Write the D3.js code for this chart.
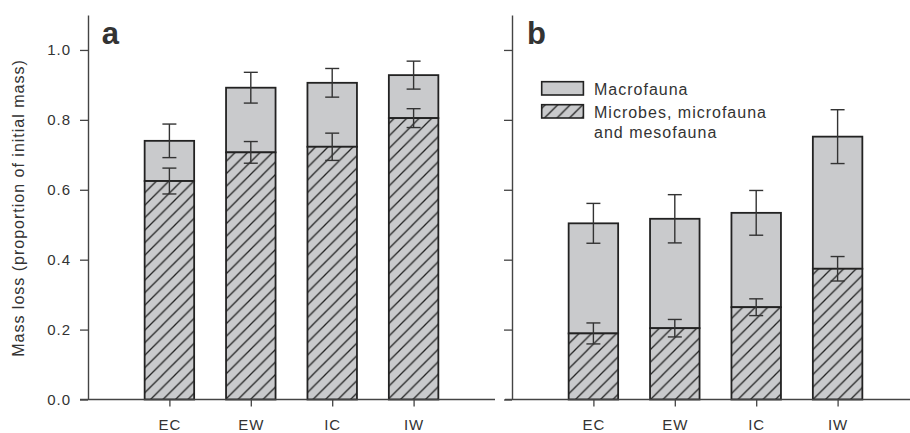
<!DOCTYPE html>
<html><head><meta charset="utf-8">
<script src="https://cdn.jsdelivr.net/npm/d3@7/dist/d3.min.js"></script>
<style>
html,body{margin:0;padding:0;background:#fff;}
svg text{font-family:"Liberation Sans",Arial,sans-serif;fill:#333;}
</style></head>
<body><svg id="chart" width="910" height="433"></svg>
<script>
const categories = ["EC","EW","IC","IW"];
// Panel a
const aTotal    = [0.740, 0.892, 0.906, 0.928];
const aTotalErr = [0.048, 0.044, 0.041, 0.040];
const aMicro    = [0.625, 0.707, 0.723, 0.805];
const aMicroErr = [0.037, 0.031, 0.039, 0.027];
// Panel b
const bTotal    = [0.504, 0.517, 0.534, 0.752];
const bTotalErr = [0.057, 0.069, 0.064, 0.077];
const bMicro    = [0.189, 0.204, 0.264, 0.374];
const bMicroErr = [0.030, 0.025, 0.024, 0.035];
const yTicks = [0.0, 0.2, 0.4, 0.6, 0.8, 1.0];
const legendLabels = ["Macrofauna", ["Microbes, microfauna", "and mesofauna"]];
const panelLabels = ["a", "b"];
const yTitle = "Mass loss (proportion of initial mass)";

const svg = d3.select("#chart");
const FILL = "#c9cacc", STROKE = "#222", AXIS = "#444";

const defs = svg.append("defs");
const pat = defs.append("pattern").attr("id","hatch").attr("patternUnits","userSpaceOnUse")
  .attr("width",12.5).attr("height",12.5);
pat.append("rect").attr("width",12.5).attr("height",12.5).attr("fill",FILL);
pat.append("path").attr("d","M-3.125,3.125 L3.125,-3.125 M0,12.5 L12.5,0 M9.375,15.625 L15.625,9.375")
  .attr("stroke","#222").attr("stroke-width",1.3);

const y = d3.scaleLinear().domain([0,1.1]).range([399.5,15]);

function panel(idx, axisX, total, totalErr, micro, microErr, showLabels, baseStart, baseEnd) {
  const x = d3.scaleLinear().domain([0,5]).range([axisX, axisX + 5*81.4]);
  const g = svg.append("g");
  const bw = 49.5;

  categories.forEach((c,i)=>{
    const cx = x(i+1);
    g.append("rect").attr("x",cx-bw/2).attr("y",y(total[i])).attr("width",bw)
      .attr("height",y(micro[i])-y(total[i])).attr("fill",FILL).attr("stroke",STROKE).attr("stroke-width",1.8);
    g.append("rect").attr("x",cx-bw/2).attr("y",y(micro[i])).attr("width",bw)
      .attr("height",y(0)-y(micro[i])).attr("fill","url(#hatch)").attr("stroke",STROKE).attr("stroke-width",1.8);
  });
  function err(vals, errs){
    vals.forEach((v,i)=>{
      const cx = x(i+1), hi=y(v+errs[i]), lo=y(v-errs[i]);
      const e = g.append("g").attr("stroke","#333").attr("stroke-width",1.4);
      e.append("line").attr("x1",cx).attr("x2",cx).attr("y1",hi).attr("y2",lo);
      e.append("line").attr("x1",cx-7).attr("x2",cx+7).attr("y1",hi).attr("y2",hi);
      e.append("line").attr("x1",cx-7).attr("x2",cx+7).attr("y1",lo).attr("y2",lo);
    });
  }
  err(total,totalErr);
  err(micro,microErr);

  const ya = g.append("g").attr("transform",`translate(${axisX},0)`)
    .call(d3.axisLeft(y).tickValues(yTicks).tickSize(8).tickSizeOuter(0).tickPadding(9)
      .tickFormat(showLabels ? d3.format(".1f") : ""));
  ya.select(".domain").attr("stroke",AXIS).attr("stroke-width",1.4);
  ya.selectAll(".tick line").attr("stroke",AXIS).attr("stroke-width",1.3);
  ya.selectAll("text").style("font-size","15px").style("letter-spacing","1px").attr("fill","#333");

  g.append("line").attr("x1",baseStart).attr("x2",baseEnd).attr("y1",y(0)).attr("y2",y(0))
    .attr("stroke",AXIS).attr("stroke-width",1.4);
  const xa = g.append("g").attr("transform",`translate(0,${y(0)})`)
    .call(d3.axisBottom(x).tickValues([1,2,3,4]).tickFormat(d=>categories[d-1]).tickSize(7).tickPadding(13));
  xa.select(".domain").remove();
  xa.selectAll(".tick line").attr("stroke",AXIS).attr("stroke-width",1.3);
  xa.selectAll("text").style("font-size","15px").style("letter-spacing","1px").attr("fill","#333");

  g.append("text").attr("x",axisX + (idx===0?13.7:15)).attr("y",44).text(panelLabels[idx])
    .style("font-size","31px").style("font-weight","bold").attr("fill","#111");
}

panel(0, 88, aTotal, aTotalErr, aMicro, aMicroErr, true, 80, 495);
panel(1, 512, bTotal, bTotalErr, bMicro, bMicroErr, false, 505, 910);

svg.append("text").attr("transform","translate(24,208) rotate(-90)").attr("text-anchor","middle")
  .text(yTitle).style("font-size","16px").style("letter-spacing","1px");

const lg = svg.append("g");
lg.append("rect").attr("x",541.7).attr("y",81.7).attr("width",41.7).attr("height",13.3)
  .attr("fill",FILL).attr("stroke",STROKE).attr("stroke-width",1.6);
lg.append("rect").attr("x",541.7).attr("y",104.7).attr("width",41.7).attr("height",13.3)
  .attr("fill","url(#hatch)").attr("stroke",STROKE).attr("stroke-width",1.6);
lg.append("text").attr("x",594).attr("y",95).text(legendLabels[0])
  .style("font-size","16px").style("letter-spacing","1px");
lg.append("text").attr("x",594).attr("y",118.3).text(legendLabels[1][0])
  .style("font-size","16px").style("letter-spacing","1px");
lg.append("text").attr("x",594).attr("y",138).text(legendLabels[1][1])
  .style("font-size","16px").style("letter-spacing","1px");
</script></body></html>
